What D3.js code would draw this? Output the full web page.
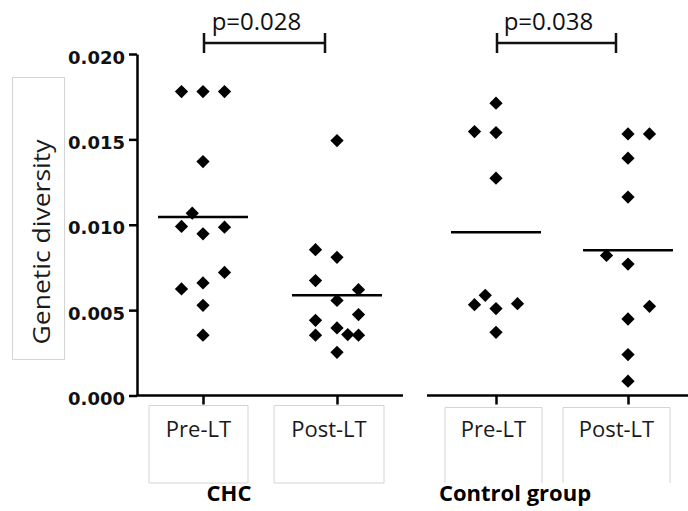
<!DOCTYPE html>
<html>
<head>
<meta charset="utf-8">
<script src="https://cdn.jsdelivr.net/npm/d3@7"></script>
<style>
  body { margin: 0; background: #fff; }
  svg { display: block; }
</style>
</head>
<body>
<svg id="chart" width="688" height="511"></svg>
<script>
// categories and groups
var categories = ["Pre-LT", "Post-LT"];
var groups = ["CHC", "Control group"];
var pValues = ["p=0.028", "p=0.038"];
var yTicks = [0, 0.005, 0.010, 0.015, 0.020];

// genetic diversity values
var chcPre = [0.0178, 0.0178, 0.0178, 0.0137, 0.01068, 0.0099, 0.00986, 0.00947, 0.00721, 0.00659, 0.00624, 0.00528, 0.00353];
var chcPost = [0.01493, 0.00854, 0.00809, 0.00673, 0.0062, 0.00557, 0.00474, 0.0044, 0.00396, 0.00353, 0.00357, 0.00353, 0.00253];
var ctrlPre = [0.01712, 0.01546, 0.0154, 0.01273, 0.00587, 0.00532, 0.00509, 0.00538, 0.0037];
var ctrlPost = [0.01532, 0.01532, 0.0139, 0.01162, 0.0082, 0.0077, 0.00522, 0.00448, 0.0024, 0.00084];

// scatter slot (left/right of the column) for each point
var chcPreSlot = [-1, 0, 1, 0, -0.5, -1, 1, 0, 1, 0, -1, 0, 0];
var chcPostSlot = [0, -1, 0, -1, 1, 0, 1, -1, 0, -1, 0.5, 1, 0];
var ctrlPreSlot = [0, -1, 0, 0, -0.5, -1, 0, 1, 0];
var ctrlPostSlot = [0, 1, 0, 0, -1, 0, 1, 0, 0, 0];

var svg = d3.select("#chart");
var axisY = 395.5;
var slotW = 21.5;

var y = d3.scaleLinear().domain([0, 0.02]).range([axisY, 54]);

var panels = [
    {name: groups[0], p: pValues[0], x: d3.scalePoint().domain(categories).range([136, 404]).padding(0.5),
     line: [137, 403], series: [[chcPre, chcPreSlot], [chcPost, chcPostSlot]],
     boxes: [[149, 248], [274, 384]], boxTop: 405.5, boxBottom: true, labelX: 229},
    {name: groups[1], p: pValues[1], x: d3.scalePoint().domain(categories).range([430, 694]).padding(0.5),
     line: [427, 688], series: [[ctrlPre, ctrlPreSlot], [ctrlPost, ctrlPostSlot]],
     boxes: [[445, 542], [563, 670]], boxTop: 407.5, boxBottom: false, labelX: 515}
];

// y axis label box
svg.append("rect")
    .attr("x", 12.5).attr("y", 77.5).attr("width", 52).attr("height", 282)
    .attr("fill", "#fff").attr("stroke", "#d4d4d4").attr("stroke-width", 1);
svg.append("text")
    .attr("transform", "translate(50,242) rotate(-90)")
    .attr("text-anchor", "middle")
    .attr("font-family", "Open Sans")
    .attr("font-size", 24)
    .attr("fill", "#1a1a1a")
    .attr("textLength", 205)
    .attr("lengthAdjust", "spacingAndGlyphs")
    .text("Genetic diversity");

// y axis
var yAxis = svg.append("g")
    .attr("transform", "translate(137,0)")
    .call(d3.axisLeft(y).tickValues(yTicks).tickFormat(d3.format(".3f")).tickSize(8).tickSizeOuter(0).tickPadding(4));
yAxis.select(".domain").attr("stroke", "#000").attr("stroke-width", 2.5);
yAxis.selectAll(".tick line").attr("stroke", "#000").attr("stroke-width", 2.5);
yAxis.selectAll(".tick text")
    .attr("font-family", "DejaVu Sans")
    .attr("font-weight", "bold")
    .attr("font-size", 18)
    .attr("fill", "#111")
    .attr("dy", "0.5em");

var diamond = d3.symbol().type(d3.symbolSquare).size(88);

panels.forEach(function(pn) {
    var x = pn.x;

    // category boxes
    pn.boxes.forEach(function(b, i) {
        var top = pn.boxTop, bot = 483;
        var path = pn.boxBottom
            ? "M" + b[0] + "," + top + "H" + b[1] + "V" + bot + "H" + b[0] + "Z"
            : "M" + b[0] + "," + bot + "V" + top + "H" + b[1] + "V" + bot;
        svg.append("path")
            .attr("d", path)
            .attr("fill", "#fff")
            .attr("stroke", "#d4d4d4")
            .attr("stroke-width", 1);
        svg.append("text")
            .attr("x", (b[0] + b[1]) / 2)
            .attr("y", 437)
            .attr("text-anchor", "middle")
            .attr("font-family", "Open Sans")
            .attr("font-size", 22)
            .attr("fill", "#1a1a1a")
            .text(categories[i]);
    });

    // bottom axis
    var xAxis = svg.append("g")
        .attr("transform", "translate(0," + axisY + ")")
        .call(d3.axisBottom(x).tickSize(9).tickFormat(""));
    xAxis.select(".domain").remove();
    xAxis.selectAll(".tick line").attr("stroke", "#000").attr("stroke-width", 2.5);
    svg.append("line")
        .attr("x1", pn.line[0]).attr("x2", pn.line[1])
        .attr("y1", axisY).attr("y2", axisY)
        .attr("stroke", "#000").attr("stroke-width", 2.5);

    // group label
    svg.append("text")
        .attr("x", pn.labelX)
        .attr("y", 501)
        .attr("text-anchor", "middle")
        .attr("font-family", "Open Sans")
        .attr("font-weight", "bold")
        .attr("font-size", 22)
        .attr("fill", "#000")
        .text(pn.name);

    // points and mean lines
    pn.series.forEach(function(s, i) {
        var cx = x(categories[i]);
        var pts = s[0].map(function(v, j) { return {v: v, slot: s[1][j]}; });
        svg.append("g").selectAll("path")
            .data(pts)
            .join("path")
            .attr("d", diamond)
            .attr("transform", function(d) {
                return "translate(" + (cx + d.slot * slotW) + "," + y(d.v) + ") rotate(45)";
            })
            .attr("fill", "#000");
        var m = d3.mean(s[0]);
        svg.append("line")
            .attr("x1", cx - 45).attr("x2", cx + 45)
            .attr("y1", y(m)).attr("y2", y(m))
            .attr("stroke", "#000").attr("stroke-width", 2.5);
    });

    // significance bracket
    var bx0 = x(categories[0]) + 1, bx1 = x(categories[1]) - 12;
    svg.append("path")
        .attr("d", "M" + bx0 + ",33V53M" + bx0 + ",43H" + bx1 + "M" + bx1 + ",33V53")
        .attr("fill", "none")
        .attr("stroke", "#111")
        .attr("stroke-width", 2.5);
    svg.append("text")
        .attr("x", (bx0 + bx1) / 2 - 8)
        .attr("y", 30)
        .attr("text-anchor", "middle")
        .attr("font-family", "Open Sans")
        .attr("font-size", 24)
        .attr("fill", "#111")
        .text(pn.p);
});
</script>
</body>
</html>
